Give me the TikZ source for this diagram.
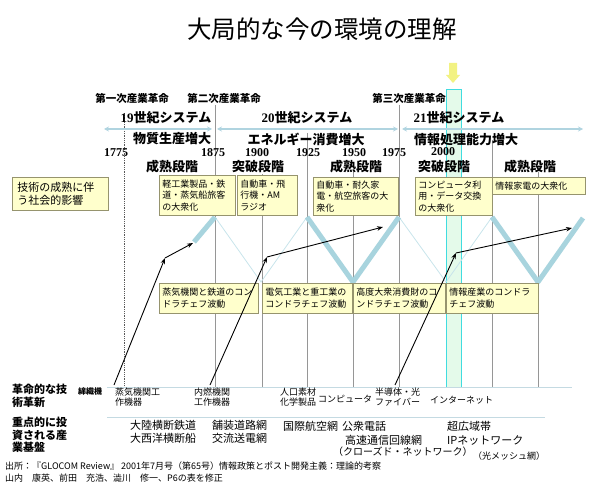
\documentclass[tikz,border=0pt]{standalone}
\usepackage{fontspec}
\setmainfont{Noto Sans CJK JP}
\newfontfamily\yearfont{Liberation Serif}
\usepackage{tikz}
\usetikzlibrary{arrows.meta, positioning}
\definecolor{boxfill}{RGB}{255,255,204}
\definecolor{boxdraw}{RGB}{150,148,110}
\definecolor{gridgray}{RGB}{150,150,150}
\definecolor{wavecol}{RGB}{168,212,222}
\definecolor{wavelight}{RGB}{200,228,235}
\definecolor{syscol}{RGB}{176,212,224}
\definecolor{rulecol}{RGB}{196,218,226}
\definecolor{nowcyan}{RGB}{64,220,224}
\definecolor{nowfill}{RGB}{228,250,234}
\definecolor{markyellow}{RGB}{242,242,130}
\tikzset{
  titlefont/.style={font=\fontsize{24.5}{28}\selectfont},
  revlabel/.style={font=\bfseries\fontsize{10.5}{12}\selectfont},
  syslabel/.style={font=\bfseries\fontsize{13}{15}\selectfont},
  yearlabel/.style={font=\yearfont\bfseries\fontsize{12}{14}\selectfont},
  ybox/.style={rectangle, draw=boxdraw, fill=boxfill, anchor=north west,
    align=left, inner sep=3pt, line width=0.6pt,
    font=\fontsize{9}{11.5}\selectfont},
  rowhead/.style={font=\bfseries\fontsize{11}{12.5}\selectfont,
    align=left, anchor=west, inner sep=0pt},
  techlabel/.style={font=\fontsize{9}{10}\selectfont, align=left,
    anchor=west, inner sep=0pt},
  infralabel/.style={font=\fontsize{11}{13}\selectfont, align=left,
    anchor=west, inner sep=0pt},
  note/.style={font=\fontsize{9}{10}\selectfont, anchor=west, inner sep=0pt},
  gridline/.style={draw=gridgray, line width=0.8pt},
  rowrule/.style={draw=rulecol, line width=0.9pt},
  wavethick/.style={draw=wavecol, line width=5pt, line join=round},
  wavethin/.style={draw=wavelight, line width=0.8pt},
  sysarrow/.style={{Stealth[length=5pt,width=5pt]}-{Stealth[length=5pt,width=5pt]},
    draw=syscol, line width=1.3pt},
  devarrow/.style={-{Stealth[length=6pt,width=4.5pt]}, line width=0.9pt}
}

\begin{document}
\begin{tikzpicture}[x=1pt, y=-1pt]
  \useasboundingbox (0,0) rectangle (599,486);

  % Title
  \node[titlefont] (title) at (322,29) {大局的な今の環境の理解};

  % Present-day band and marker
  \filldraw[draw=nowcyan, fill=nowfill, line width=0.8pt] (446,89) rectangle (461,387);
  \fill[markyellow] (449,63) -- (457,63) -- (457,75) -- (460,75) -- (453,83)
    -- (446,75) -- (449,75) -- cycle;

  % Grid
  \draw[gridline, densely dotted, draw=black!65] (124,113) -- (124,387);
  \foreach \x/\top in {215/105, 262/174, 307/133, 353/172, 399/105, 492/140, 538/172}
    \draw[gridline] (\x,\top) -- (\x,387);
  \draw[rowrule] (107,387) -- (572,387);
  \draw[rowrule] (107,417) -- (545,417);

  % Kondratiev wave
  \coordinate (w0) at (194,242);
  \coordinate (p1) at (215,217);
  \coordinate (t1) at (261,282);
  \coordinate (p2) at (307,217);
  \coordinate (t2) at (353,282);
  \coordinate (p3) at (399,217);
  \coordinate (t3) at (446,282);
  \coordinate (p4) at (492,217);
  \coordinate (t4) at (538,282);
  \coordinate (w9) at (583,218);
  \draw[wavethin] (p1) -- (t1) -- (p2);
  \draw[wavethin] (p3) -- (t3) -- (p4);
  \draw[wavethick] (w0) -- (p1);
  \draw[wavethick] (p2) -- (t2) -- (p3);
  \draw[wavethick] (p4) -- (t4) -- (w9);

  % Industrial revolutions and systems
  \node[revlabel] (rev1) at (132,98) {第一次産業革命};
  \node[revlabel] (rev2) at (224,98) {第二次産業革命};
  \node[revlabel] (rev3) at (409,98) {第三次産業革命};
  \node[syslabel] (sys19) at (166,118) {{\yearfont 19}世紀システム};
  \node[syslabel] (sys20) at (307,118) {{\yearfont 20}世紀システム};
  \node[syslabel] (sys21) at (459,118) {{\yearfont 21}世紀システム};
  \draw[sysarrow] (104,129) -- (212,129);
  \draw[sysarrow] (217,129) -- (398,129);
  \draw[sysarrow] (402,129) -- (583,129);
  \node[syslabel] (grow1) at (172,139) {物質生産増大};
  \node[syslabel] (grow2) at (306,139) {エネルギー消費増大};
  \node[syslabel] (grow3) at (466,140) {情報処理能力増大};

  % Years
  \node[yearlabel] (y1775) at (116,153) {1775};
  \node[yearlabel] (y1875) at (213,153) {1875};
  \node[yearlabel] (y1900) at (257,153) {1900};
  \node[yearlabel] (y1925) at (308,153) {1925};
  \node[yearlabel] (y1950) at (354,153) {1950};
  \node[yearlabel] (y1975) at (394,153) {1975};
  \node[yearlabel] (y2000) at (443,152) {2000};

  % Stages
  \node[syslabel] (stage1) at (172,167) {成熟段階};
  \node[syslabel] (stage2) at (258,167) {突破段階};
  \node[syslabel] (stage3) at (356,167) {成熟段階};
  \node[syslabel] (stage4) at (444,167) {突破段階};
  \node[syslabel] (stage5) at (530,167) {成熟段階};

  % Social impact boxes
  \node[ybox, inner sep=5pt, text width=86pt, minimum height=31pt,
    font=\fontsize{11}{13}\selectfont] (impact) at (12,177) {技術の成熟に伴\\う社会的影響};
  \node[ybox, text width=70pt, minimum height=40pt] (mass1) at (159,175) {軽工業製品・鉄\\道・蒸気船旅客\\の大衆化};
  \node[ybox, text width=54pt, minimum height=40pt] (mass2) at (237,175) {自動車・飛\\行機・AM\\ラジオ};
  \node[ybox, text width=79pt, minimum height=38pt] (mass3) at (313,177) {自動車・耐久家\\電・航空旅客の大\\衆化};
  \node[ybox, text width=71pt, minimum height=38pt] (mass4) at (415,177) {コンピュータ利\\用・データ交換\\の大衆化};
  \node[ybox, text width=87pt, minimum height=17pt] (mass5) at (492,177) {情報家電の大衆化};

  % Kondratiev boxes
  \node[ybox, text width=93pt, minimum height=30pt] (kon1) at (159,283) {蒸気機関と鉄道のコン\\ドラチェフ波動};
  \node[ybox, text width=84pt, minimum height=30pt] (kon2) at (262,283) {電気工業と重工業の\\コンドラチェフ波動};
  \node[ybox, text width=86pt, minimum height=30pt] (kon3) at (353,283) {高度大衆消費財のコ\\ンドラチェフ波動};
  \node[ybox, text width=86pt, minimum height=30pt] (kon4) at (446,283) {情報産業のコンドラ\\チェフ波動};

  % Innovation row
  \node[rowhead] (innov) at (12,396) {革命的な技\\術革新};
  \node[techlabel, font=\bfseries\fontsize{8}{9}\selectfont] (loom) at (78,391) {綿織機};
  \node[techlabel] (steam) at (115,397) {蒸気機関工\\作機器};
  \node[techlabel] (combust) at (194,397) {内燃機関\\工作機器};
  \node[techlabel] (chem) at (280,397) {人口素材\\化学製品};
  \node[techlabel] (comp) at (318,399) {コンピュータ};
  \node[techlabel] (semi) at (375,397) {半導体・光\\ファイバー};
  \node[techlabel] (inet) at (430,400) {インターネット};

  % Infrastructure row
  \node[rowhead] (infra) at (12,435) {重点的に投\\資される産\\業基盤};
  \node[infralabel] (rail) at (130,432) {大陸横断鉄道\\大西洋横断船};
  \node[infralabel] (road) at (212,432) {舗装道路網\\交流送電網};
  \node[infralabel] (air) at (283,426) {国際航空網};
  \node[infralabel] (phone) at (342,426) {公衆電話};
  \node[infralabel] (fastnet) at (345,440) {高速通信回線網};
  \node[infralabel, font=\fontsize{10}{12}\selectfont] (closed) at (333,452) {（クローズド・ネットワーク）};
  \node[infralabel] (wide) at (447,426) {超広域帯};
  \node[infralabel] (ipnet) at (447,440) {IPネットワーク};
  \node[infralabel, font=\fontsize{9}{11}\selectfont] (mesh) at (473,456) {（光メッシュ網）};

  % Source
  \node[note] (src1) at (5,466) {出所：『GLOCOM Review』 2001年7月号（第65号）情報政策とポスト開発主義：理論的考察};
  \node[note] (src2) at (5,478) {山内　康英、前田　充浩、澁川　修一、P6の表を修正};

  % Development paths
  \coordinate (a1s) at (114,385);
  \coordinate (a1m) at (165,258);
  \coordinate (a1e) at (193,243);
  \coordinate (a2s) at (210,385);
  \coordinate (a2m) at (267,257);
  \coordinate (a2e) at (383,227);
  \coordinate (a3s) at (395,385);
  \coordinate (a3m) at (456,253);
  \coordinate (a3e) at (572,228);
  \draw[devarrow] (a1s) -- (a1m);
  \draw[devarrow] (a1m) -- (a1e);
  \draw[devarrow] (a2s) -- (a2m);
  \draw[devarrow] (a2m) -- (a2e);
  \draw[devarrow] (a3s) -- (a3m);
  \draw[devarrow] (a3m) -- (a3e);
\end{tikzpicture}
\end{document}
